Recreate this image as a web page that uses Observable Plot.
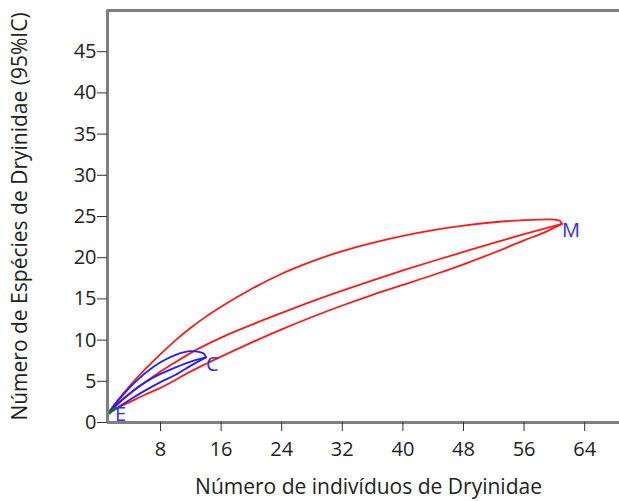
<!DOCTYPE html>
<html><head><meta charset="utf-8">
<script src="https://cdn.jsdelivr.net/npm/d3@7"></script>
<script src="https://cdn.jsdelivr.net/npm/@observablehq/plot@0.6"></script>
<style>body{margin:0;background:#fff}</style>
</head><body><div id="chart"></div>
<script>
// Tick labels
const xTicks = [8, 16, 24, 32, 40, 48, 56, 64];
const yTicks = [0, 5, 10, 15, 20, 25, 30, 35, 40, 45];

// Axis titles
const xTitle = "Número de indivíduos de Dryinidae";
const yTitle = "Número de Espécies de Dryinidae (95%IC)";

// Sample M (red): mean and 95% CI
const mUpperN = [1, 2, 4, 6, 8, 10, 12, 14, 16, 20, 24, 28, 32, 36, 40, 44, 48, 52, 56, 59.4, 60.7, 61];
const mUpperS = [1, 2.3, 4.5, 6.5, 8.3, 10.0, 11.5, 12.85, 14.05, 16.2, 18.05, 19.55, 20.8, 21.8, 22.65, 23.35, 23.9, 24.3, 24.55, 24.65, 24.5, 24.1];
const mMeanN = [1, 2, 4, 6, 8, 10, 12, 16, 20, 24, 28, 32, 36, 40, 44, 48, 52, 56, 61];
const mMeanS = [1, 1.9, 3.5, 4.9, 6.2, 7.35, 8.45, 10.3, 11.85, 13.3, 14.7, 16.0, 17.25, 18.45, 19.6, 20.7, 21.8, 22.85, 24.1];
const mLowerN = [1, 2, 4, 6, 8, 12, 16, 20, 24, 28, 32, 36, 40, 44, 48, 52, 56, 59, 61];
const mLowerS = [1, 1.6, 2.5, 3.4, 4.2, 6.2, 8.0, 9.7, 11.3, 12.8, 14.2, 15.5, 16.7, 17.9, 19.2, 20.6, 22.1, 23.2, 24.1];

// Sample C (blue)
const cUpperN = [1, 2, 3, 4, 5, 6, 8, 10, 12, 13.2, 13.8, 14];
const cUpperS = [1, 2.2, 3.3, 4.3, 5.2, 6.0, 7.3, 8.2, 8.65, 8.55, 8.3, 7.9];
const cMeanN = [1, 2, 4, 6, 8, 10, 12, 14];
const cMeanS = [1, 2.0, 3.6, 4.9, 5.9, 6.7, 7.4, 7.9];
const cLowerN = [1, 2, 4, 6, 8, 10, 12, 14];
const cLowerS = [1, 1.6, 2.8, 3.9, 4.9, 5.8, 6.9, 7.9];

// Sample E (green)
const eN = [1, 2];
const eS = [1, 1.75];

// Curve labels at the end points
const labelNames = ["M", "C", "E"];
const labelN = [61, 14, 2];
const labelS = [24.1, 7.9, 1.75];

const toRows = (ns, ss) => ns.map((n, i) => ({n, s: ss[i]}));
const lineOpts = (color, w) => ({x: "n", y: "s", stroke: color, strokeWidth: w, curve: "monotone-x"});
const labels = labelNames.map((t, i) => ({t, n: labelN[i], s: labelS[i]}));

const frameColor = "#7f7f7f";
const textColor = "#222";

const chart = Plot.plot({
  width: 619,
  height: 501,
  marginLeft: 107,
  marginRight: 0,
  marginTop: 10,
  marginBottom: 79,
  style: {fontFamily: "'Open Sans', sans-serif", fontSize: "20px", color: textColor, background: "#fff", overflow: "visible"},
  x: {domain: [1, 68.6]},
  y: {domain: [0, 50]},
  marks: [
    Plot.line(toRows(mUpperN, mUpperS), lineOpts("#ff1a1a", 1.8)),
    Plot.line(toRows(mMeanN, mMeanS), lineOpts("#ff1a1a", 1.8)),
    Plot.line(toRows(mLowerN, mLowerS), lineOpts("#ff1a1a", 1.8)),
    Plot.line(toRows(cUpperN, cUpperS), lineOpts("#2020ff", 1.8)),
    Plot.line(toRows(cMeanN, cMeanS), lineOpts("#2020ff", 1.8)),
    Plot.line(toRows(cLowerN, cLowerS), lineOpts("#2020ff", 1.8)),
    Plot.line(toRows(eN, eS), lineOpts("#0a7a0a", 2.5)),
    Plot.text(labels, {x: "n", y: "s", text: "t", textAnchor: "start", lineAnchor: "top", dx: 0, dy: -1, fill: "#3030f0", fontSize: 20, clip: true}),
    Plot.ruleY([50], {stroke: frameColor, strokeWidth: 3}),
    Plot.ruleX([1], {stroke: frameColor, strokeWidth: 3}),
    Plot.ruleY([0], {stroke: frameColor, strokeWidth: 3}),
    Plot.axisX(xTicks, {tickSize: 9, tickPadding: 10, stroke: "#333", label: null}),
    Plot.axisY(yTicks, {tickSize: 10, tickPadding: 1, stroke: "#333", label: null}),
    Plot.text([xTitle], {frameAnchor: "bottom", textAnchor: "middle", lineAnchor: "top", dy: 57, dx: 5, fontSize: 21, fill: textColor}),
    Plot.text([yTitle], {frameAnchor: "left", rotate: -90, textAnchor: "middle", lineAnchor: "top", dx: -95, fontSize: 21, fill: textColor})
  ]
});
document.getElementById("chart").appendChild(chart);
</script>
</body></html>
